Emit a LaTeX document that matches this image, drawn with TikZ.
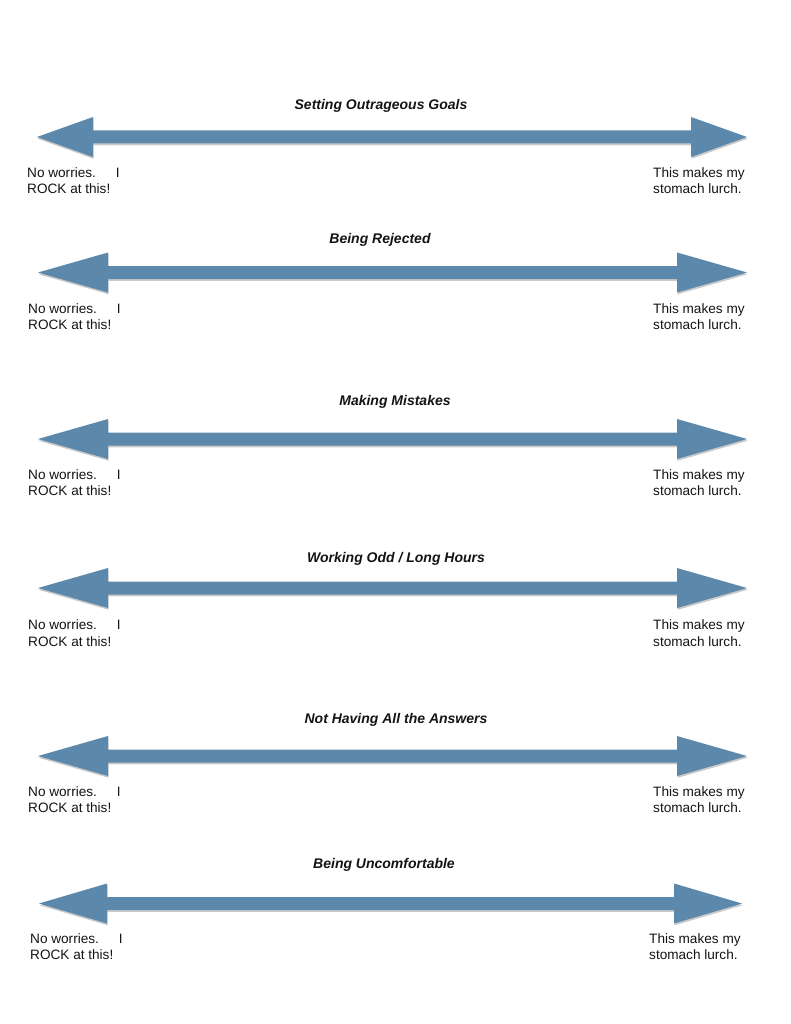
\documentclass[tikz,border=0pt]{standalone}
\usepackage{fontspec}
\setmainfont{Liberation Sans}
\usepackage{tikz}
\usetikzlibrary{shadows}
\usepackage{xcolor}
\definecolor{barblue}{RGB}{92, 137, 171}
\definecolor{textclr}{RGB}{20, 20, 20}
\tikzset{
  % Shkala strelkasi
  scalebar/.style  = {fill=barblue, drop shadow={shadow xshift=0.6pt, shadow yshift=-1.8pt, opacity=0.35, fill=black!60}},
  % Sarlavha va etiketlar
  scaletitle/.style = {font=\fontsize{14}{17}\selectfont\bfseries\itshape, text=textclr, inner sep=0pt},
  lowlab/.style     = {font=\fontsize{13.6}{16.4}\selectfont, text=textclr, align=left, anchor=west, inner sep=0pt},
}
% ikki tomonlama strelka: #1 y, #2 chap uchi, #3 o'ng uchi, #4 uch uzunligi
\newcommand{\scalearrow}[4]{%
  \path[scalebar] (#2,#1) -- (#2+#4,#1-20) -- (#2+#4,#1-6.5) -- (#3-#4,#1-6.5)
    -- (#3-#4,#1-20) -- (#3,#1) -- (#3-#4,#1+20) -- (#3-#4,#1+6.5)
    -- (#2+#4,#1+6.5) -- (#2+#4,#1+20) -- cycle;}
\newcommand{\leftlab}{No worries.\hspace{20pt}I\\ROCK at this!}
\newcommand{\rightlab}{This makes my\\stomach lurch.}

\begin{document}
\begin{tikzpicture}[x=1pt, y=-1pt]
  \useasboundingbox[fill=white] (0,0) rectangle (791,1024);
  % 1
  \node[scaletitle] (t1) at (381,106) {Setting Outrageous Goals};
  \scalearrow{137}{37}{747}{56}
  \node[lowlab] (l1) at (27,180.5) {\leftlab};
  \node[lowlab] (r1) at (653,180.5) {\rightlab};
  % 2
  \node[scaletitle] (t2) at (380,240) {Being Rejected};
  \scalearrow{272.5}{38}{747}{70}
  \node[lowlab] (l2) at (28,316.5) {\leftlab};
  \node[lowlab] (r2) at (653,316.5) {\rightlab};
  % 3
  \node[scaletitle] (t3) at (395,401.5) {Making Mistakes};
  \scalearrow{439}{38}{747}{70}
  \node[lowlab] (l3) at (28,482.5) {\leftlab};
  \node[lowlab] (r3) at (653,482.5) {\rightlab};
  % 4
  \node[scaletitle] (t4) at (396,559) {Working Odd / Long Hours};
  \scalearrow{588}{38}{747}{70}
  \node[lowlab] (l4) at (28,633) {\leftlab};
  \node[lowlab] (r4) at (653,633) {\rightlab};
  % 5
  \node[scaletitle] (t5) at (396,720) {Not Having All the Answers};
  \scalearrow{756}{38}{747}{70}
  \node[lowlab] (l5) at (28,799.5) {\leftlab};
  \node[lowlab] (r5) at (653,799.5) {\rightlab};
  % 6
  \node[scaletitle] (t6) at (384,865) {Being Uncomfortable};
  \scalearrow{903.5}{39}{742}{68}
  \node[lowlab] (l6) at (30,946.5) {\leftlab};
  \node[lowlab] (r6) at (649,946.5) {\rightlab};
\end{tikzpicture}
\end{document}
